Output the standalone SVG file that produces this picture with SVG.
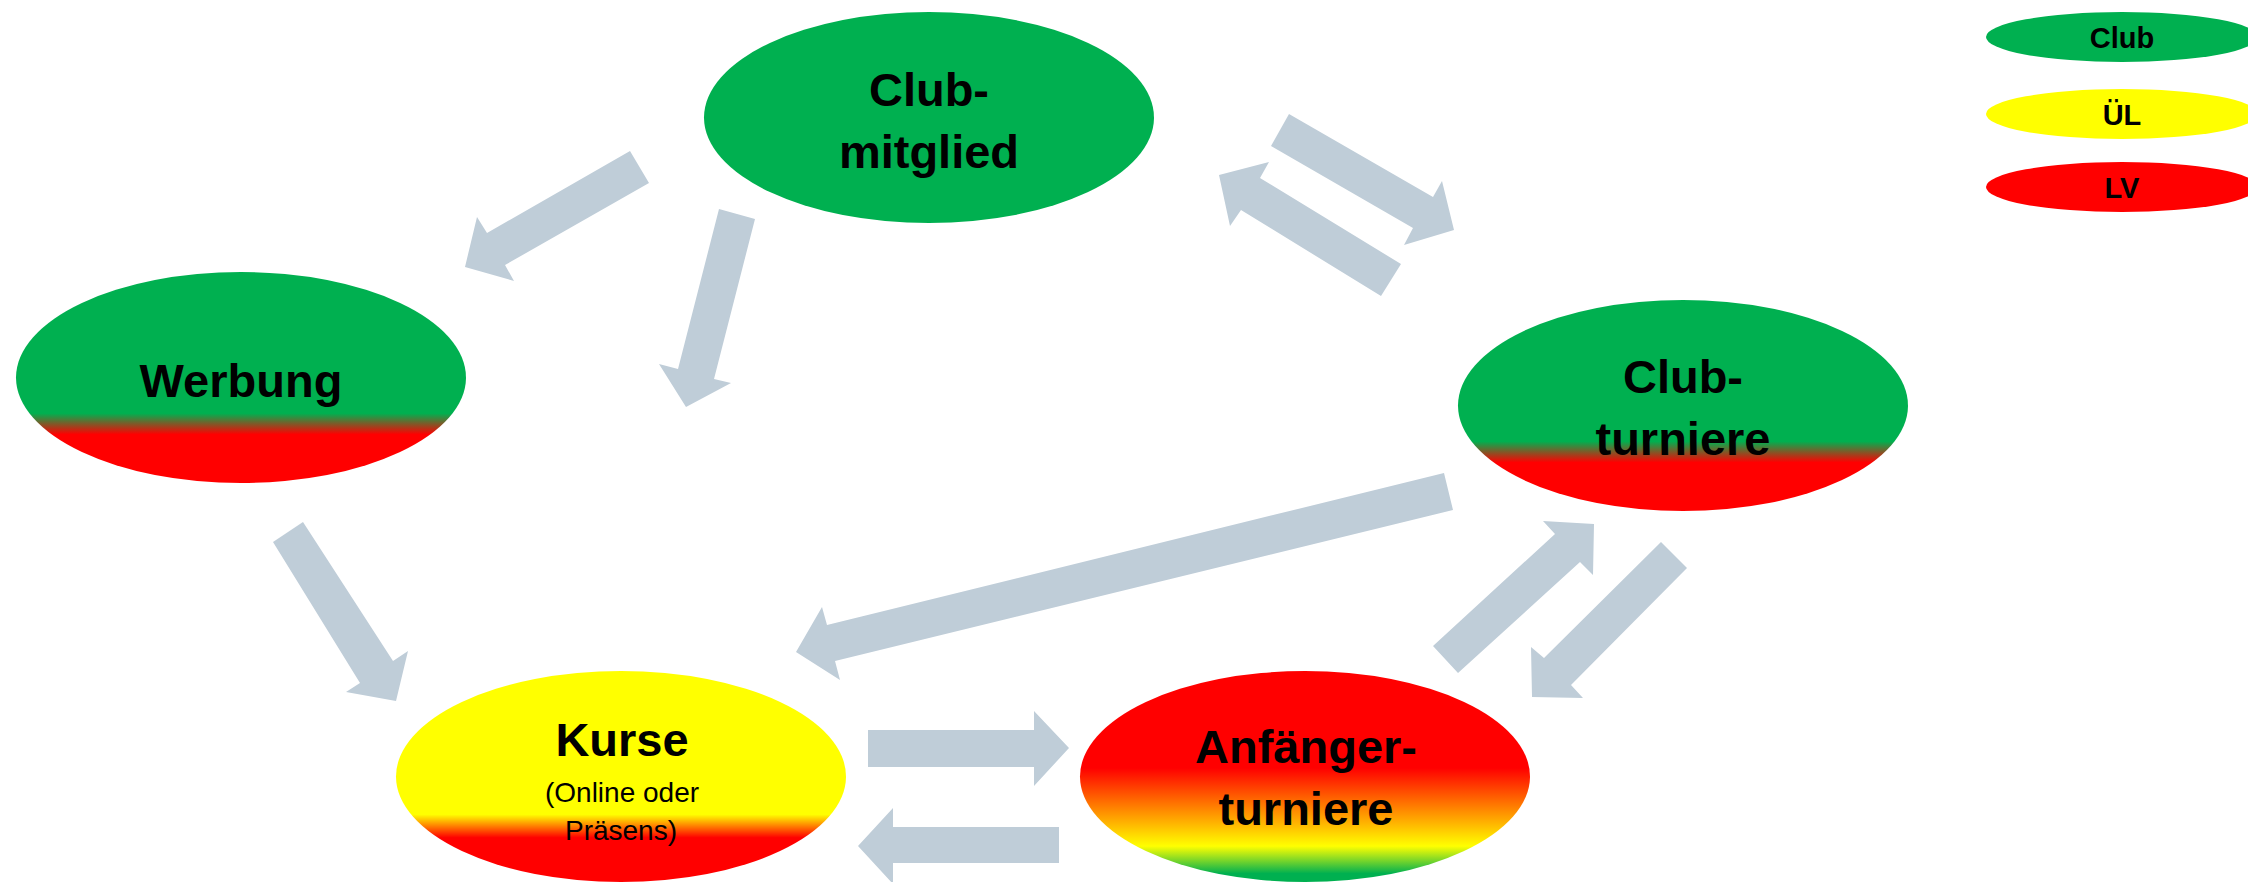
<svg xmlns="http://www.w3.org/2000/svg" width="2248" height="882" viewBox="0 0 2248 882">
<defs>
<style>
.arrow{fill:#BFCDD8;stroke:none}
.big{font-family:"Liberation Sans",Arial,sans-serif;font-weight:bold;font-size:47px;fill:#000;text-anchor:middle}
.small{font-family:"Liberation Sans",Arial,sans-serif;font-size:28px;fill:#000;text-anchor:middle}
.leg{font-family:"Liberation Sans",Arial,sans-serif;font-weight:bold;font-size:29px;fill:#000;text-anchor:middle}
</style>
<linearGradient id="gr" x1="0" y1="0" x2="0" y2="1">
<stop offset="0.67" stop-color="#00B050"/>
<stop offset="0.77" stop-color="#FF0000"/>
</linearGradient>
<linearGradient id="yr" x1="0" y1="0" x2="0" y2="1">
<stop offset="0.68" stop-color="#FFFF00"/>
<stop offset="0.79" stop-color="#FF0000"/>
</linearGradient>
<linearGradient id="ryg" x1="0" y1="0" x2="0" y2="1">
<stop offset="0.46" stop-color="#FF0000"/>
<stop offset="0.83" stop-color="#FFFF00"/>
<stop offset="0.96" stop-color="#00B050"/>
</linearGradient>
</defs>
<rect width="2248" height="882" fill="#fff"/>
<g id="connectors">
<polygon class="arrow" points="630,151 649,183 505,265 514,281 465,267 477,217 487,233"/>
<polygon class="arrow" points="719,209 755,219 714,379 731,383 686,407 659,364 678,369"/>
<polygon class="arrow" points="1289,114 1433,197 1442,181 1454,230 1404,245 1413,228 1271,146"/>
<polygon class="arrow" points="1401,264 1381,296 1241,210 1230,226 1219,175 1269,162 1260,178"/>
<polygon class="arrow" points="303,522 393,661 408,651 396,701 346,692 360,683 273,542"/>
<polygon class="arrow" points="1444,473 1453,510 835,661 840,680 796,652 822,607 827,625"/>
<polygon class="arrow" points="1433,646 1555,534 1543,521 1594,524 1593,575 1580,562 1458,673"/>
<polygon class="arrow" points="1661,542 1687,568 1571,685 1583,698 1532,697 1531,647 1544,658"/>
<polygon class="arrow" points="868,730 1034,730 1034,711 1069,748 1034,786 1034,767 868,767"/>
<polygon class="arrow" points="1059,827 1059,863 893,863 893,884 858,846 893,808 893,827"/>
</g>
<g id="clubmitglied">
<ellipse cx="929" cy="117.5" rx="225" ry="105.5" fill="#00B050"/>
<text class="big" x="929" y="106">Club-</text>
<text class="big" x="929" y="168">mitglied</text>
</g>
<g id="werbung">
<ellipse cx="241" cy="377.5" rx="225" ry="105.5" fill="url(#gr)"/>
<text class="big" x="241" y="397">Werbung</text>
</g>
<g id="clubturniere">
<ellipse cx="1683" cy="405.5" rx="225" ry="105.5" fill="url(#gr)"/>
<text class="big" x="1683" y="393">Club-</text>
<text class="big" x="1683" y="455">turniere</text>
</g>
<g id="kurse">
<ellipse cx="621" cy="776.5" rx="225" ry="105.5" fill="url(#yr)"/>
<text class="big" x="622" y="756">Kurse</text>
<text class="small" x="622" y="802">(Online oder</text>
<text class="small" x="621" y="840">Präsens)</text>
</g>
<g id="anfaengerturniere">
<ellipse cx="1305" cy="776.5" rx="225" ry="105.5" fill="url(#ryg)"/>
<text class="big" x="1306" y="763">Anfänger-</text>
<text class="big" x="1306" y="825">turniere</text>
</g>
<g id="legend-club">
<ellipse cx="2122" cy="37" rx="136" ry="25" fill="#00B050"/>
<text class="leg" x="2122" y="48">Club</text>
</g>
<g id="legend-ul">
<ellipse cx="2122" cy="114" rx="136" ry="25" fill="#FFFF00"/>
<text class="leg" x="2122" y="125">ÜL</text>
</g>
<g id="legend-lv">
<ellipse cx="2122" cy="187" rx="136" ry="25" fill="#FF0000"/>
<text class="leg" x="2122" y="198">LV</text>
</g>
</svg>
